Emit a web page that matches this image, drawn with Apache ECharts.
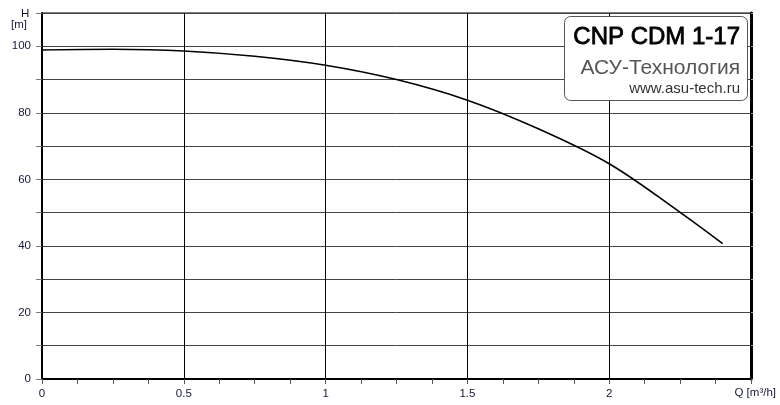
<!DOCTYPE html>
<html>
<head>
<meta charset="utf-8">
<script src="https://cdn.jsdelivr.net/npm/echarts@6/dist/echarts.min.js"></script>
<style>html,body{margin:0;padding:0;background:#fff}#c{width:780px;height:405px}</style>
</head>
<body>
<div id="c"></div>
<script>
const flowQ = [0, 0.25, 0.5, 0.75, 1.0, 1.25, 1.5, 1.75, 2.0, 2.25, 2.4];
const headH = [98.9, 99.1, 98.6, 97.0, 94.3, 90.0, 83.8, 75.2, 64.7, 50.1, 40.7];
const titleLines = ['CNP CDM 1-17', 'АСУ-Технология', 'www.asu-tech.ru'];
const yName = ['H', '[m]'];
const xName = 'Q [m³/h]';

const chart = echarts.init(document.getElementById('c'), null, {renderer: 'canvas'});
const labelColor = '#14193a';
const font = 'Liberation Sans, Arial, sans-serif';
chart.setOption({
  animation: false,
  backgroundColor: '#fff',
  grid: {left: 42, top: 13, right: 29, bottom: 26, show: true, borderColor: '#000', borderWidth: 1, backgroundColor: '#fff'},
  xAxis: {
    type: 'value', min: 0, max: 2.5, interval: 0.5,
    axisLine: {show: true, onZero: false, lineStyle: {color: '#000', width: 2}},
    axisTick: {show: true, length: 5, lineStyle: {color: '#555'}},
    minorTick: {show: true, splitNumber: 4, length: 5, lineStyle: {color: '#555'}},
    axisLabel: {color: labelColor, fontSize: 11.5, fontFamily: font, margin: 9,
      formatter: v => (v >= 2.5 ? '' : String(v))},
    splitLine: {show: true, lineStyle: {color: '#000', width: 1}}
  },
  yAxis: [{
    type: 'value', min: 0, max: 110, interval: 10,
    axisLine: {show: true, onZero: false, lineStyle: {color: '#000', width: 2}},
    axisTick: {show: true, length: 6, lineStyle: {color: '#777'}},
    axisLabel: {color: labelColor, fontSize: 11.5, fontFamily: font, margin: 11,
      formatter: v => (v % 20 === 0 && v <= 100 ? String(v) : '')},
    splitLine: {show: true, lineStyle: {color: '#444', width: 1}}
  }, {
    type: 'value', min: 0, max: 110, interval: 10, position: 'right',
    axisLine: {show: true, onZero: false, lineStyle: {color: '#000', width: 3}},
    axisTick: {show: true, inside: false, length: 2, lineStyle: {color: '#999'}},
    axisLabel: {show: false},
    splitLine: {show: false}
  }],
  series: [{
    type: 'line',
    data: flowQ.map((q, i) => [q, headH[i]]),
    smooth: 0.35,
    showSymbol: false,
    lineStyle: {color: '#000', width: 1.6}
  }],
  graphic: [
    {type: 'text', left: 21, top: 8, style: {text: yName[0], font: '11.5px ' + font, fill: labelColor}},
    {type: 'text', left: 11, top: 19, style: {text: yName[1], font: '11.5px ' + font, fill: labelColor}},
    {type: 'text', right: 4, top: 387, style: {text: xName, font: '11.5px ' + font, fill: labelColor}},
    {type: 'rect', shape: {x: 564.5, y: 16.5, width: 183, height: 84, r: 6},
      style: {fill: '#fff', stroke: '#555', lineWidth: 1}, z: 100},
    {type: 'text', z: 101, style: {x: 740, y: 37, text: titleLines[0], font: '24px ' + font, fill: '#000', stroke: '#000', lineWidth: 0.8, align: 'right', verticalAlign: 'middle'}},
    {type: 'text', z: 101, style: {x: 740, y: 68, text: titleLines[1], font: '21px ' + font, fill: '#555', align: 'right', verticalAlign: 'middle'}},
    {type: 'text', z: 101, style: {x: 740, y: 89, text: titleLines[2], font: '15px ' + font, fill: '#333', align: 'right', verticalAlign: 'middle'}}
  ]
});
</script>
</body>
</html>
